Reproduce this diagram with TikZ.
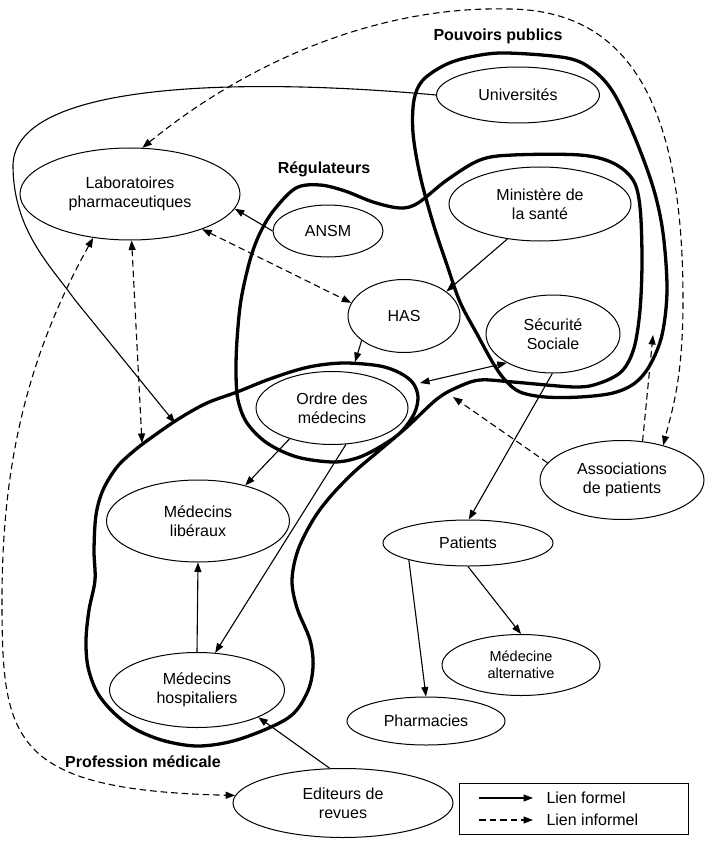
\documentclass[tikz,border=0pt]{standalone}
\usepackage{fontspec}
\setmainfont{Liberation Sans}
\usetikzlibrary{shapes.geometric,arrows.meta}

\tikzset{
  >={Triangle[length=9.5pt,width=7pt]},
  entite/.style={draw, ellipse, line width=1pt, inner sep=0pt, align=center, font=\corps},
  formel/.style={->, line width=1.1pt},
  informel/.style={->, line width=1.1pt, dash pattern=on 6.5pt off 4pt},
  groupe/.style={line width=3.3pt, line join=round},
  titre/.style={font=\corps\bfseries}
}

\begin{document}
\begin{tikzpicture}[x=1pt, y=-1pt]
% Set the text size (1pt = 1 pixel of the drawing)
\def\corps{\fontsize{16}{19}\selectfont}
\useasboundingbox (0,0) rectangle (704,845);

% Draw the actors
\node[entite, minimum width=220pt, minimum height=92pt] (labo) at (130,194) {Laboratoires\\pharmaceutiques};
\node[entite, minimum width=163pt, minimum height=56pt] (univ) at (518,95) {Universités};
\node[entite, minimum width=110pt, minimum height=52pt] (ansm) at (328,231) {ANSM};
\node[entite, minimum width=182pt, minimum height=74pt] (minist) at (540,204) {Ministère de\\la santé};
\node[entite, minimum width=112pt, minimum height=73pt] (has) at (404,316) {HAS};
\node[entite, minimum width=134pt, minimum height=78pt] (secu) at (553,334) {Sécurité\\Sociale};
\node[entite, minimum width=152pt, minimum height=73pt] (ordre) at (332,408) {Ordre des\\médecins};
\node[entite, minimum width=164pt, minimum height=79pt] (assoc) at (622,480) {Associations\\de patients};
\node[entite, minimum width=183pt, minimum height=82pt] (liberaux) at (198,521) {Médecins\\libéraux};
\node[entite, minimum width=170pt, minimum height=46pt] (patients) at (468,543) {Patients};
\node[entite, minimum width=158pt, minimum height=61pt, font=\fontsize{14.5}{17}\selectfont] (altern) at (521,665) {Médecine\\alternative};
\node[entite, minimum width=158pt, minimum height=48pt] (pharma) at (426,721) {Pharmacies};
\node[entite, minimum width=175pt, minimum height=75pt] (hospit) at (197,690) {Médecins\\hospitaliers};
\node[entite, minimum width=220pt, minimum height=69pt] (editeurs) at (343,803) {Editeurs de\\revues};

% Group titles
\node[titre] (tpouvoirs) at (498,36) {Pouvoirs publics};
\node[titre] (tregul) at (324,169) {Régulateurs};
\node[titre] (tprof) at (143,762) {Profession médicale};

% Draw the groups
\draw[groupe] plot[smooth cycle, tension=0.55] coordinates {
  (507,53) (567,58) (593,70) (613,92) (633,133) (653,187) (663,233) (667,290)
  (662,335) (650,365) (635,383) (613,393) (580,397) (545,397) (520,392) (505,380)
  (493,363) (477,334) (460,302) (447,265) (433,223) (420,175) (413,133) (414,100)
  (423,80) (447,64) (475,56)};
\draw[groupe] plot[smooth cycle, tension=0.55] coordinates {
  (296,188) (320,185) (345,191) (373,202) (400,208) (418,203) (447,180) (480,160)
  (513,155) (580,155) (613,163) (633,180) (640,207) (642,260) (640,310) (634,348)
  (622,371) (600,383) (575,387) (513,382) (480,380) (458,387) (437,399) (407,427)
  (380,450) (353,473) (330,497) (313,520) (298,550) (292,580) (297,608) (310,640)
  (313,667) (307,693) (288,718) (240,739) (200,746) (165,741) (135,729) (113,712)
  (97,692) (88,667) (86,640) (89,610) (95,580) (94,550) (96,515) (103,490)
  (117,467) (135,450) (155,435) (180,418) (207,403) (237,392) (267,380) (297,370)
  (320,365) (347,363) (380,366) (400,373) (413,383) (418,397) (414,414) (400,433)
  (378,448) (357,458) (333,462) (297,457) (267,443) (247,423) (238,400) (236,373)
  (237,340) (241,300) (250,260) (260,233) (274,210)};

% Free ends on the group borders
\coordinate (pmhaut) at (175,423);
\coordinate (pmlabo) at (142,443);
\coordinate (ordhaut) at (355,362);
\coordinate (orddroit) at (420,383);
\coordinate (ppdroit) at (653,335);
\coordinate (regbas) at (453,397);

% Formal links
\draw[formel] (univ.west) .. controls (250,78) and (15,80) .. (13,165)
  .. controls (13,230) and (50,265) .. (75,300) -- (pmhaut);
\draw[formel] (ansm.west) -- (labo.-8);
\draw[formel] (minist.-133) -- (has.30);
\draw[formel] (has.-150) -- (ordhaut);
\draw[formel, <->] (orddroit) -- (secu.-148);
\draw[formel] (secu.-91) -- (patients.88);
\draw[formel] (ordre.-144) -- (liberaux.37);
\draw[formel] (ordre.-69) -- (hospit.64);
\draw[formel] (hospit.north) -- (liberaux.south);
\draw[formel] (editeurs.111) -- (hospit.-24);
\draw[formel] (patients.-164) -- (pharma.north);
\draw[formel] (patients.south) -- (altern.north);

% Informal links
\draw[informel, <->] (labo.75) .. controls (250,60) and (380,6) .. (507,9)
  .. controls (640,9) and (683,123) .. (683,300)
  .. controls (683,380) and (672,410) .. (assoc.40);
\draw[informel, <->] (labo.-26) -- (has.166);
\draw[informel, <->] (labo.-88) -- (pmlabo);
\draw[informel, <->] (labo.-130) .. controls (25,360) and (2,470) .. (2,600)
  .. controls (2,740) and (10,790) .. (editeurs.176);
\draw[informel] (assoc.62) -- (ppdroit);
\draw[informel] (assoc.167) -- (regbas);

% Legend
\draw[line width=1pt] (459,783) rectangle (688,834);
\node[anchor=west, font=\corps] (lformel) at (543,798) {Lien formel};
\node[anchor=west, font=\corps] (linformel) at (543,820) {Lien informel};
\draw[formel] ([xshift=-64pt]lformel.west) -- ([xshift=-10pt]lformel.west);
\draw[informel] ([xshift=-64pt]linformel.west) -- ([xshift=-10pt]linformel.west);
\end{tikzpicture}
\end{document}
